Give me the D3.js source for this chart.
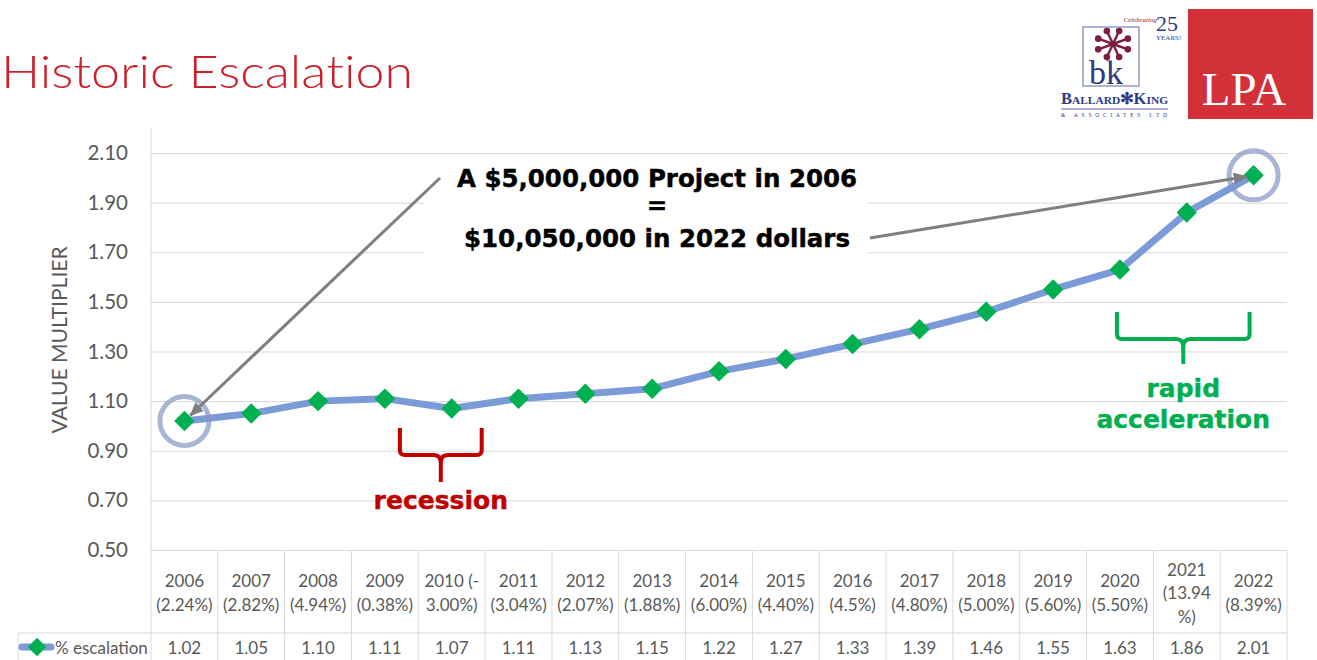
<!DOCTYPE html>
<html>
<head>
<meta charset="utf-8">
<script src="https://cdn.jsdelivr.net/npm/d3@7"></script>
<style>
  body { margin: 0; background: #fff; }
  svg { display: block; }
</style>
</head>
<body>
<svg id="chart" width="1317" height="660"></svg>
<script>
// ---- data ----
const categoryLabels = [
  "2006\n(2.24%)", "2007\n(2.82%)", "2008\n(4.94%)", "2009\n(0.38%)",
  "2010 (-\n3.00%)", "2011\n(3.04%)", "2012\n(2.07%)", "2013\n(1.88%)",
  "2014\n(6.00%)", "2015\n(4.40%)", "2016\n(4.5%)", "2017\n(4.80%)",
  "2018\n(5.00%)", "2019\n(5.60%)", "2020\n(5.50%)", "2021\n(13.94\n%)",
  "2022\n(8.39%)"
];
const escalation = [1.02, 1.05, 1.10, 1.11, 1.07, 1.11, 1.13, 1.15, 1.22,
                    1.27, 1.33, 1.39, 1.46, 1.55, 1.63, 1.86, 2.01];
const yTicks = [0.50, 0.70, 0.90, 1.10, 1.30, 1.50, 1.70, 1.90, 2.10];
const seriesName = "% escalation";
const yTitle = "VALUE MULTIPLIER";
const titleText = "Historic Escalation";
const calloutLines = ["A $5,000,000 Project in 2006", "=", "$10,050,000 in 2022 dollars"];

// ---- layout ----
const svg = d3.select("#chart");
const plot = { left: 151, right: 1287, top: 153, bottom: 550, axisTop: 128 };
const tableBottom = 660, rowSplit = 633, legendLeft = 18;
const txtColor = "#595959", gridColor = "#d9d9d9";
const font = "Lato, 'Open Sans', sans-serif";

const x = d3.scaleBand().domain(categoryLabels).range([plot.left, plot.right]);
const y = d3.scaleLinear().domain([0.5, 2.1]).range([plot.bottom, plot.top]);
const cx = (i) => x(categoryLabels[i]) + x.bandwidth() / 2;
const cy = (i) => y(escalation[i]);

// title
svg.append("text")
  .attr("x", 1).attr("y", 88)
  .attr("font-family", font).attr("font-weight", 300).attr("font-size", 46)
  .style("font-variant-ligatures", "none")
  .attr("textLength", 412).attr("lengthAdjust", "spacingAndGlyphs")
  .attr("fill", "#cc1f2a")
  .text(titleText);

// gridlines + y tick labels
const yAxis = svg.append("g")
  .attr("transform", `translate(${plot.left},0)`)
  .call(d3.axisLeft(y).tickValues(yTicks).tickFormat(d3.format(".2f"))
    .tickSize(-(plot.right - plot.left)).tickPadding(23));
yAxis.select(".domain").remove();
yAxis.selectAll(".tick line").attr("stroke", gridColor).attr("stroke-width", 1);
yAxis.selectAll(".tick text")
  .attr("fill", txtColor).attr("font-family", font).attr("font-size", 20.5);

// y axis title
svg.append("text")
  .attr("transform", "translate(67,340) rotate(-90)")
  .attr("text-anchor", "middle")
  .attr("font-family", font).attr("font-size", 21).attr("fill", txtColor)
  .text(yTitle);

// vertical axis line
svg.append("line")
  .attr("x1", plot.left).attr("x2", plot.left)
  .attr("y1", plot.axisTop).attr("y2", tableBottom)
  .attr("stroke", gridColor);

// data table grid
const table = svg.append("g");
const boundaries = categoryLabels.map(d => x(d)).concat([plot.right]);
table.selectAll("line.col").data(boundaries.slice(1)).join("line")
  .attr("x1", d => d).attr("x2", d => d)
  .attr("y1", plot.bottom).attr("y2", tableBottom)
  .attr("stroke", gridColor);
table.append("line")
  .attr("x1", legendLeft).attr("x2", plot.right)
  .attr("y1", rowSplit).attr("y2", rowSplit).attr("stroke", gridColor);
table.append("line")
  .attr("x1", legendLeft).attr("x2", legendLeft)
  .attr("y1", rowSplit).attr("y2", tableBottom).attr("stroke", gridColor);

// category labels (wrapped)
const lineH = 23.5, blockMid = 593;
table.selectAll("text.cat").data(categoryLabels).join("text")
  .attr("class", "cat")
  .attr("text-anchor", "middle")
  .attr("font-family", font).attr("font-size", 17).attr("fill", txtColor)
  .each(function (d) {
    const lines = d.split("\n");
    const t = d3.select(this);
    lines.forEach((ln, k) => {
      t.append("tspan")
        .attr("x", x(d) + x.bandwidth() / 2)
        .attr("y", blockMid + (k - (lines.length - 1) / 2) * lineH + 6)
        .text(ln);
    });
  });

// value row
table.selectAll("text.val").data(escalation).join("text")
  .attr("class", "val")
  .attr("x", (d, i) => cx(i)).attr("y", 654)
  .attr("text-anchor", "middle")
  .attr("font-family", font).attr("font-size", 17).attr("fill", txtColor)
  .text(d => d3.format(".2f")(d));

// legend key in the table
const lineColor = "#7b9bd8", markerColor = "#00b050";
const diamond = d3.symbol(d3.symbolSquare, 170);
table.append("line")
  .attr("x1", 22).attr("x2", 51).attr("y1", 647).attr("y2", 647)
  .attr("stroke", lineColor).attr("stroke-width", 7).attr("stroke-linecap", "round");
table.append("path")
  .attr("d", diamond())
  .attr("transform", "translate(37,647) rotate(45)")
  .attr("fill", markerColor);
table.append("text")
  .attr("x", 55).attr("y", 654)
  .attr("font-family", font).attr("font-size", 17).attr("fill", txtColor)
  .text(seriesName);

// series line
const line = d3.line()
  .x((d, i) => cx(i)).y(d => y(d))
  .curve(d3.curveLinear);
svg.append("path")
  .datum(escalation)
  .attr("d", line)
  .attr("fill", "none").attr("stroke", lineColor)
  .attr("stroke-width", 7).attr("stroke-linejoin", "round").attr("stroke-linecap", "round");

// markers
svg.selectAll("path.pt").data(escalation).join("path")
  .attr("class", "pt")
  .attr("d", diamond())
  .attr("transform", (d, i) => `translate(${cx(i)},${y(d)}) rotate(45)`)
  .attr("fill", markerColor)
  .attr("stroke", markerColor).attr("stroke-width", 1.5).attr("stroke-linejoin", "round");

// highlight rings on first and last points
const last = escalation.length - 1;
svg.selectAll("circle.ring").data([0, last]).join("circle")
  .attr("cx", i => cx(i)).attr("cy", i => cy(i)).attr("r", 24.5)
  .attr("fill", "none").attr("stroke", "#8396c2").attr("stroke-opacity", 0.7)
  .attr("stroke-width", 5);

// callout box and text
svg.append("rect")
  .attr("x", 424).attr("y", 158).attr("width", 444).attr("height", 102)
  .attr("fill", "#fff");
const calloutY = [187, 214, 247];
svg.selectAll("text.callout").data(calloutLines).join("text")
  .attr("x", 657).attr("y", (d, i) => calloutY[i])
  .attr("text-anchor", "middle")
  .attr("font-family", "'DejaVu Sans', sans-serif").attr("font-weight", "bold")
  .attr("font-size", 24.5).attr("fill", "#000")
  .attr("stroke", "#000").attr("stroke-width", 0.4)
  .text(d => d);

// arrows from the callout to the first and last points
const defs = svg.append("defs");
defs.append("marker")
  .attr("id", "arrowhead").attr("markerUnits", "userSpaceOnUse")
  .attr("viewBox", "0 0 14 12").attr("refX", 13).attr("refY", 6)
  .attr("markerWidth", 14).attr("markerHeight", 12).attr("orient", "auto")
  .append("path").attr("d", "M0,0 L14,6 L0,12 Z").attr("fill", "#7f7f7f");
function arrowTo(x0, y0, i, back) {
  const px = cx(i), py = cy(i);
  const dx = x0 - px, dy = y0 - py, len = Math.hypot(dx, dy);
  svg.append("line")
    .attr("x1", x0).attr("y1", y0)
    .attr("x2", px + dx / len * back).attr("y2", py + dy / len * back)
    .attr("stroke", "#7f7f7f").attr("stroke-width", 3)
    .attr("marker-end", "url(#arrowhead)");
}
arrowTo(440, 178, 0, 8);
arrowTo(870, 238, last, 7);

// braces
function brace(left, right, top, hy, stem, color) {
  const mid = (left + right) / 2, r = 5;
  const d = `M${left},${top} V${hy - r} Q${left},${hy} ${left + r},${hy} H${mid - 7} Q${mid},${hy} ${mid},${hy + 8} V${stem}` +
            ` M${right},${top} V${hy - r} Q${right},${hy} ${right - r},${hy} H${mid + 7} Q${mid},${hy} ${mid},${hy + 8}`;
  svg.append("path").attr("d", d)
    .attr("fill", "none").attr("stroke", color).attr("stroke-width", 4)
    .attr("stroke-linejoin", "round");
  return mid;
}
const recColor = "#c00000", accColor = "#00b050";
const recMid = brace(cx(3) + 15, cx(4) + 30, 428, 455, 482, recColor);
const accMid = brace(cx(14) - 3, cx(16) - 4, 312, 339, 364, accColor);
const boldFont = "'DejaVu Sans', sans-serif";
function boldLabel(xp, yp, color, str) {
  svg.append("text").attr("x", xp).attr("y", yp).attr("text-anchor", "middle")
    .attr("font-family", boldFont).attr("font-weight", "bold").attr("font-size", 25)
    .attr("fill", color).attr("stroke", color).attr("stroke-width", 0.4).text(str);
}
boldLabel(recMid, 509, recColor, "recession");
boldLabel(accMid, 397, accColor, "rapid");
boldLabel(accMid, 428, accColor, "acceleration");

// ---- logos ----
const logo = svg.append("g");
const navy = "#2d3b85", maroon = "#7d1d3f";
logo.append("rect").attr("x", 1083).attr("y", 27).attr("width", 56).attr("height", 59)
  .attr("fill", "none").attr("stroke", "#8e9dc6").attr("stroke-width", 1.5);
const fc = [1113, 44];
d3.range(8).forEach(k => {
  const a = k * Math.PI / 4 + Math.PI / 8;
  const ex = fc[0] + Math.cos(a) * 16, ey = fc[1] + Math.sin(a) * 14;
  logo.append("line").attr("x1", fc[0]).attr("y1", fc[1]).attr("x2", ex).attr("y2", ey)
    .attr("stroke", maroon).attr("stroke-width", 2.4);
  logo.append("circle").attr("cx", ex).attr("cy", ey).attr("r", 3.3).attr("fill", maroon);
});
logo.append("text").attr("x", 1089).attr("y", 84)
  .attr("font-family", "'Liberation Serif', serif").attr("font-size", 34).attr("fill", navy)
  .text("bk");
logo.append("text").attr("x", 1157).attr("y", 22).attr("text-anchor", "end")
  .attr("font-family", "'Liberation Serif', serif").attr("font-style", "italic").attr("font-size", 7)
  .attr("fill", maroon).text("Celebrating");
logo.append("text").attr("x", 1156).attr("y", 31)
  .attr("font-family", "'Liberation Serif', serif").attr("font-size", 22).attr("fill", navy)
  .text("25");
logo.append("text").attr("x", 1156).attr("y", 40)
  .attr("font-family", "'Liberation Serif', serif").attr("font-size", 7).attr("fill", navy)
  .text("YEARS!");
logo.append("text").attr("x", 1061).attr("y", 104)
  .attr("font-family", "'Liberation Serif', serif").attr("font-weight", "bold")
  .attr("font-variant", "small-caps").attr("font-size", 16).attr("fill", navy)
  .attr("textLength", 107).attr("lengthAdjust", "spacingAndGlyphs")
  .text("Ballard✻King");
logo.append("line").attr("x1", 1061).attr("x2", 1168).attr("y1", 109).attr("y2", 109)
  .attr("stroke", navy).attr("stroke-width", 0.8);
logo.append("text").attr("x", 1061).attr("y", 117)
  .attr("font-family", "'Liberation Serif', serif").attr("font-size", 5.5).attr("fill", navy)
  .attr("textLength", 106).attr("lengthAdjust", "spacing")
  .text("& ASSOCIATES LTD");

logo.append("rect").attr("x", 1188).attr("y", 9).attr("width", 125).attr("height", 110)
  .attr("fill", "#d2313a");
logo.append("text").attr("x", 1244).attr("y", 105).attr("text-anchor", "middle")
  .attr("font-family", "'Liberation Serif', serif").attr("font-size", 47).attr("fill", "#fff")
  .text("LPA");
</script>
</body>
</html>
